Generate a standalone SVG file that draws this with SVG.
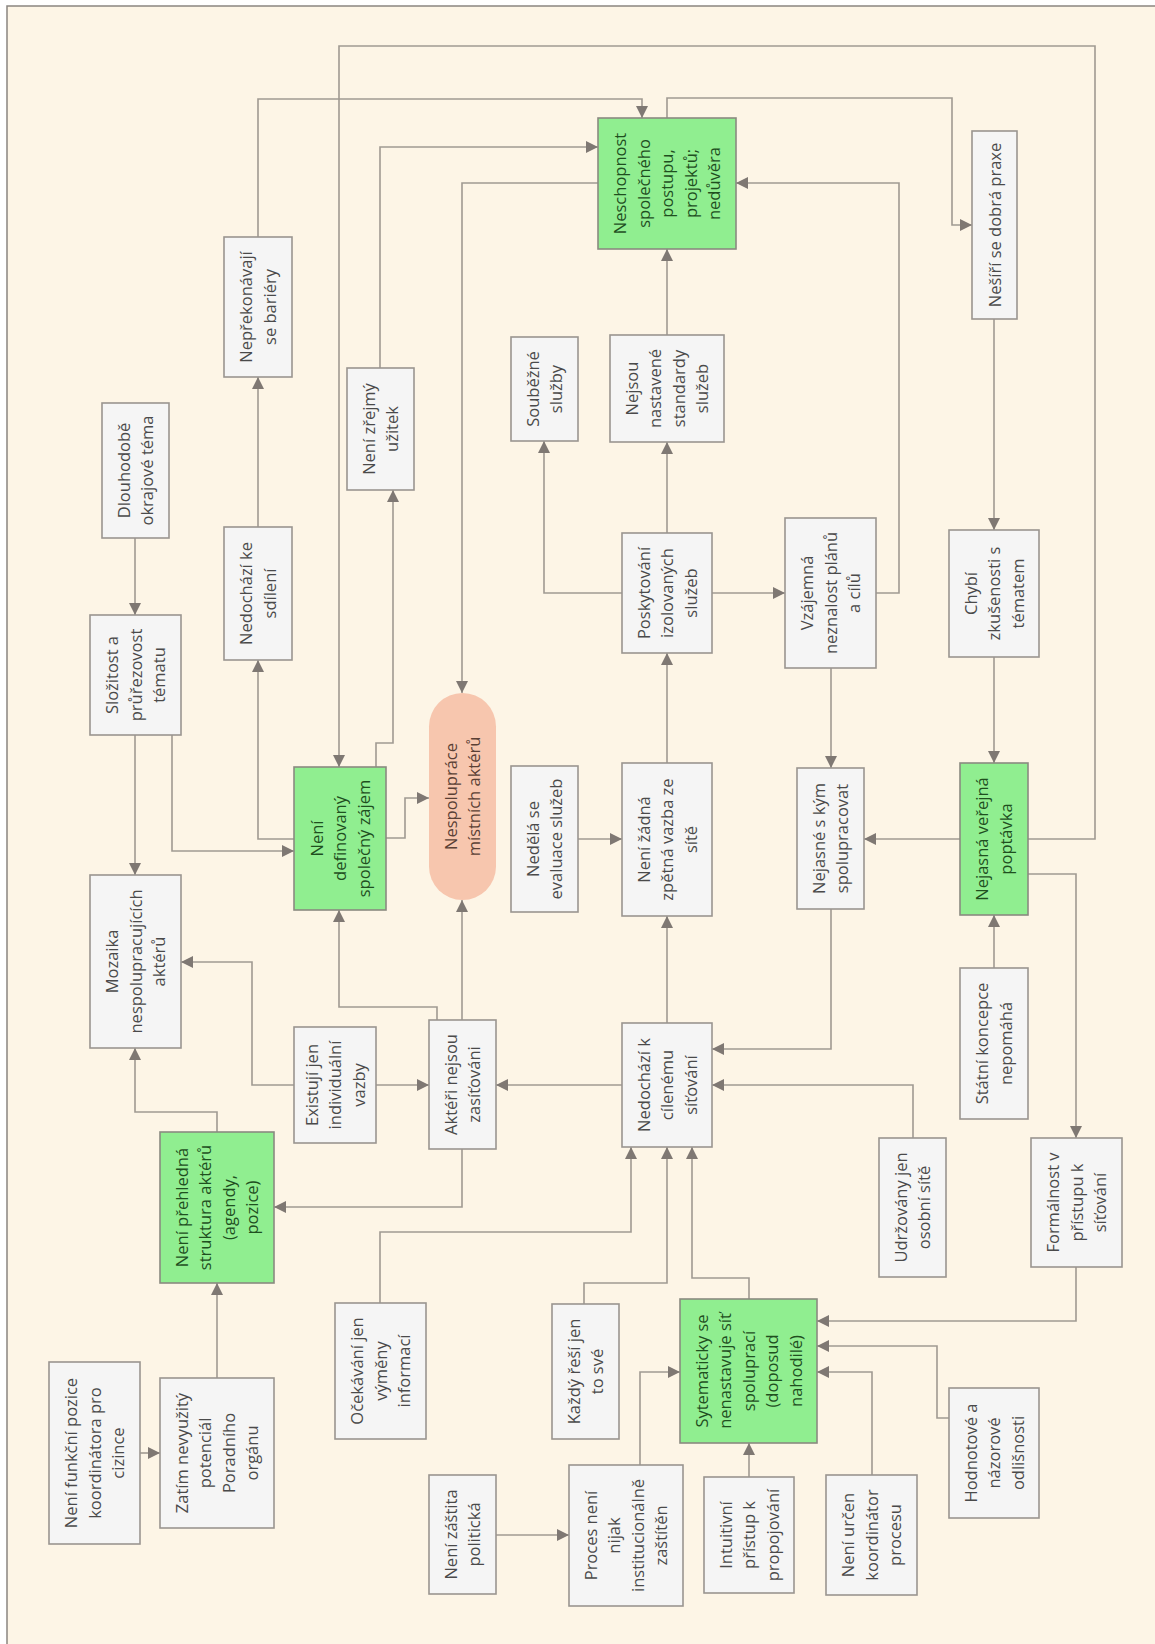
<svg xmlns="http://www.w3.org/2000/svg" width="1155" height="1644" viewBox="0 0 1155 1644">
<style>
.bg{fill:#fdf5e6;stroke:#8a8580;stroke-width:1.5}
.n rect{fill:#f5f5f5;stroke:#9a9590;stroke-width:1.6}
.g rect{fill:#90ee90;stroke:#8a8a80;stroke-width:1.6}
.p rect{fill:#f7c6ae;stroke:none}
text{font-family:"Open Sans","Noto Sans","DejaVu Sans",sans-serif;font-size:16.5px;text-anchor:middle;fill:#4a4a4a}
.g text{fill:#1f4f1f}
.p text{fill:#5a4035}
.c path{fill:none;stroke:#a09a92;stroke-width:1.6}
</style>
<defs>
<marker id="a" markerUnits="userSpaceOnUse" markerWidth="13" markerHeight="13" viewBox="0 0 13 13" refX="12" refY="6.5" orient="auto">
<path d="M0,0.5 L12,6.5 L0,12.5 Z" fill="#7f7873"/>
</marker>
</defs>
<rect x="0" y="0" width="1155" height="1644" fill="#ffffff"/>
<rect class="bg" x="7" y="6" width="1160" height="1650"/>
<g class="c">
<path d="M135,538 V615" marker-end="url(#a)"/>
<path d="M135,735 V875" marker-end="url(#a)"/>
<path d="M172,735 V851 H294" marker-end="url(#a)"/>
<path d="M294,839 H258 V660" marker-end="url(#a)"/>
<path d="M258,527 V377" marker-end="url(#a)"/>
<path d="M258,237 V99 H642 V118" marker-end="url(#a)"/>
<path d="M1028,839 H1095 V46 H339 V767" marker-end="url(#a)"/>
<path d="M376,767 V743 H393 V490" marker-end="url(#a)"/>
<path d="M380,368 V147 H598" marker-end="url(#a)"/>
<path d="M598,183 H462 V693" marker-end="url(#a)"/>
<path d="M667,118 V98 H952 V225 H972" marker-end="url(#a)"/>
<path d="M994,319 V530" marker-end="url(#a)"/>
<path d="M994,657 V763" marker-end="url(#a)"/>
<path d="M876,593 H899 V183 H736" marker-end="url(#a)"/>
<path d="M667,335 V249" marker-end="url(#a)"/>
<path d="M622,593 H544 V441" marker-end="url(#a)"/>
<path d="M667,533 V442" marker-end="url(#a)"/>
<path d="M712,593 H785" marker-end="url(#a)"/>
<path d="M667,763 V653" marker-end="url(#a)"/>
<path d="M831,668 V768" marker-end="url(#a)"/>
<path d="M578,839 H622" marker-end="url(#a)"/>
<path d="M386,838 H405 V798 H429" marker-end="url(#a)"/>
<path d="M462,1020 V900" marker-end="url(#a)"/>
<path d="M437,1020 V1007 H339 V910" marker-end="url(#a)"/>
<path d="M667,1023 V916" marker-end="url(#a)"/>
<path d="M622,1085 H496" marker-end="url(#a)"/>
<path d="M376,1085 H429" marker-end="url(#a)"/>
<path d="M294,1085 H252 V962 H181" marker-end="url(#a)"/>
<path d="M217,1132 V1112 H135 V1048" marker-end="url(#a)"/>
<path d="M462,1149 V1207 H274" marker-end="url(#a)"/>
<path d="M960,839 H864" marker-end="url(#a)"/>
<path d="M831,909 V1049 H712" marker-end="url(#a)"/>
<path d="M913,1138 V1085 H712" marker-end="url(#a)"/>
<path d="M994,968 V915" marker-end="url(#a)"/>
<path d="M1028,874 H1076 V1138" marker-end="url(#a)"/>
<path d="M1076,1267 V1321 H817" marker-end="url(#a)"/>
<path d="M217,1378 V1283" marker-end="url(#a)"/>
<path d="M140,1453 H160" marker-end="url(#a)"/>
<path d="M380,1303 V1232 H631 V1147" marker-end="url(#a)"/>
<path d="M584,1304 V1283 H667 V1147" marker-end="url(#a)"/>
<path d="M749,1299 V1278 H692 V1147" marker-end="url(#a)"/>
<path d="M496,1535 H569" marker-end="url(#a)"/>
<path d="M640,1465 V1372 H680" marker-end="url(#a)"/>
<path d="M749,1477 V1443" marker-end="url(#a)"/>
<path d="M872,1475 V1372 H817" marker-end="url(#a)"/>
<path d="M949,1418 H937 V1346 H817" marker-end="url(#a)"/>
</g>

<g id="n1" class="n"><rect x="224" y="237" width="68" height="140"/><text transform="translate(258,307) rotate(-90)"><tspan x="0" y="-5.75">Nepřekonávají</tspan><tspan x="0" y="17.75">se bariéry</tspan></text></g>
<g id="n2" class="n"><rect x="347" y="368" width="67" height="122"/><text transform="translate(380.5,429) rotate(-90)"><tspan x="0" y="-5.75">Není zřejmý</tspan><tspan x="0" y="17.75">užitek</tspan></text></g>
<g id="n3" class="g"><rect x="598" y="118" width="138" height="131"/><text transform="translate(667,183.5) rotate(-90)"><tspan x="0" y="-41">Neschopnost</tspan><tspan x="0" y="-17.5">společného</tspan><tspan x="0" y="6">postupu,</tspan><tspan x="0" y="29.5">projektů;</tspan><tspan x="0" y="53">nedůvěra</tspan></text></g>
<g id="n4" class="n"><rect x="972" y="131" width="45" height="188"/><text transform="translate(994.5,225) rotate(-90)"><tspan x="0" y="6">Nešíří se dobrá praxe</tspan></text></g>
<g id="n5" class="n"><rect x="102" y="403" width="67" height="135"/><text transform="translate(135.5,470.5) rotate(-90)"><tspan x="0" y="-5.75">Dlouhodobě</tspan><tspan x="0" y="17.75">okrajové téma</tspan></text></g>
<g id="n6" class="n"><rect x="90" y="615" width="91" height="120"/><text transform="translate(135.5,675) rotate(-90)"><tspan x="0" y="-17.5">Složitost a</tspan><tspan x="0" y="6">průřezovost</tspan><tspan x="0" y="29.5">tématu</tspan></text></g>
<g id="n7" class="n"><rect x="224" y="527" width="68" height="133"/><text transform="translate(258,593.5) rotate(-90)"><tspan x="0" y="-5.75">Nedochází ke</tspan><tspan x="0" y="17.75">sdílení</tspan></text></g>
<g id="n8" class="n"><rect x="511" y="337" width="67" height="104"/><text transform="translate(544.5,389) rotate(-90)"><tspan x="0" y="-5.75">Souběžné</tspan><tspan x="0" y="17.75">služby</tspan></text></g>
<g id="n9" class="n"><rect x="610" y="335" width="114" height="107"/><text transform="translate(667,388.5) rotate(-90)"><tspan x="0" y="-29.25">Nejsou</tspan><tspan x="0" y="-5.75">nastavené</tspan><tspan x="0" y="17.75">standardy</tspan><tspan x="0" y="41.25">služeb</tspan></text></g>
<g id="n10" class="n"><rect x="622" y="533" width="90" height="120"/><text transform="translate(667,593) rotate(-90)"><tspan x="0" y="-17.5">Poskytování</tspan><tspan x="0" y="6">izolovaných</tspan><tspan x="0" y="29.5">služeb</tspan></text></g>
<g id="n11" class="n"><rect x="785" y="518" width="91" height="150"/><text transform="translate(830.5,593) rotate(-90)"><tspan x="0" y="-17.5">Vzájemná</tspan><tspan x="0" y="6">neznalost plánů</tspan><tspan x="0" y="29.5">a cílů</tspan></text></g>
<g id="n12" class="n"><rect x="949" y="530" width="90" height="127"/><text transform="translate(994,593.5) rotate(-90)"><tspan x="0" y="-17.5">Chybí</tspan><tspan x="0" y="6">zkušenosti s</tspan><tspan x="0" y="29.5">tématem</tspan></text></g>
<g id="n13" class="n"><rect x="90" y="875" width="91" height="173"/><text transform="translate(135.5,961.5) rotate(-90)"><tspan x="0" y="-17.5">Mozaika</tspan><tspan x="0" y="6">nespolupracujících</tspan><tspan x="0" y="29.5">aktérů</tspan></text></g>
<g id="n14" class="g"><rect x="294" y="767" width="92" height="143"/><text transform="translate(340,838.5) rotate(-90)"><tspan x="0" y="-17.5">Není</tspan><tspan x="0" y="6">definovaný</tspan><tspan x="0" y="29.5">společný zájem</tspan></text></g>
<g id="n15" class="p"><rect x="429" y="693" width="67" height="207" rx="33.5" ry="33.5"/><text transform="translate(462.5,796.5) rotate(-90)"><tspan x="0" y="-5.75">Nespolupráce</tspan><tspan x="0" y="17.75">místních aktérů</tspan></text></g>
<g id="n16" class="n"><rect x="511" y="766" width="67" height="146"/><text transform="translate(544.5,839) rotate(-90)"><tspan x="0" y="-5.75">Nedělá se</tspan><tspan x="0" y="17.75">evaluace služeb</tspan></text></g>
<g id="n17" class="n"><rect x="622" y="763" width="90" height="153"/><text transform="translate(667,839.5) rotate(-90)"><tspan x="0" y="-17.5">Není žádná</tspan><tspan x="0" y="6">zpětná vazba ze</tspan><tspan x="0" y="29.5">sítě</tspan></text></g>
<g id="n18" class="n"><rect x="797" y="768" width="67" height="141"/><text transform="translate(830.5,838.5) rotate(-90)"><tspan x="0" y="-5.75">Nejasné s kým</tspan><tspan x="0" y="17.75">spolupracovat</tspan></text></g>
<g id="n19" class="g"><rect x="960" y="763" width="68" height="152"/><text transform="translate(994,839) rotate(-90)"><tspan x="0" y="-5.75">Nejasná veřejná</tspan><tspan x="0" y="17.75">poptávka</tspan></text></g>
<g id="n20" class="n"><rect x="294" y="1027" width="82" height="116"/><text transform="translate(335,1085) rotate(-90)"><tspan x="0" y="-17.5">Existují jen</tspan><tspan x="0" y="6">individuální</tspan><tspan x="0" y="29.5">vazby</tspan></text></g>
<g id="n21" class="n"><rect x="429" y="1020" width="67" height="129"/><text transform="translate(462.5,1084.5) rotate(-90)"><tspan x="0" y="-5.75">Aktéři nejsou</tspan><tspan x="0" y="17.75">zasíťováni</tspan></text></g>
<g id="n22" class="n"><rect x="622" y="1023" width="90" height="124"/><text transform="translate(667,1085) rotate(-90)"><tspan x="0" y="-17.5">Nedochází k</tspan><tspan x="0" y="6">cílenému</tspan><tspan x="0" y="29.5">síťování</tspan></text></g>
<g id="n23" class="n"><rect x="960" y="968" width="68" height="151"/><text transform="translate(994,1043.5) rotate(-90)"><tspan x="0" y="-5.75">Státní koncepce</tspan><tspan x="0" y="17.75">nepomáhá</tspan></text></g>
<g id="n24" class="g"><rect x="160" y="1132" width="114" height="151"/><text transform="translate(217,1207.5) rotate(-90)"><tspan x="0" y="-29.25">Není přehledná</tspan><tspan x="0" y="-5.75">struktura aktérů</tspan><tspan x="0" y="17.75">(agendy,</tspan><tspan x="0" y="41.25">pozice)</tspan></text></g>
<g id="n25" class="n"><rect x="879" y="1138" width="67" height="139"/><text transform="translate(912.5,1207.5) rotate(-90)"><tspan x="0" y="-5.75">Udržovány jen</tspan><tspan x="0" y="17.75">osobní sítě</tspan></text></g>
<g id="n26" class="n"><rect x="1031" y="1138" width="91" height="129"/><text transform="translate(1076.5,1202.5) rotate(-90)"><tspan x="0" y="-17.5">Formálnost v</tspan><tspan x="0" y="6">přístupu k</tspan><tspan x="0" y="29.5">síťování</tspan></text></g>
<g id="n27" class="n"><rect x="49" y="1362" width="91" height="182"/><text transform="translate(94.5,1453) rotate(-90)"><tspan x="0" y="-17.5">Není funkční pozice</tspan><tspan x="0" y="6">koordinátora pro</tspan><tspan x="0" y="29.5">cizince</tspan></text></g>
<g id="n28" class="n"><rect x="160" y="1378" width="114" height="150"/><text transform="translate(217,1453) rotate(-90)"><tspan x="0" y="-29.25">Zatím nevyužitý</tspan><tspan x="0" y="-5.75">potenciál</tspan><tspan x="0" y="17.75">Poradního</tspan><tspan x="0" y="41.25">orgánu</tspan></text></g>
<g id="n29" class="n"><rect x="335" y="1303" width="91" height="136"/><text transform="translate(380.5,1371) rotate(-90)"><tspan x="0" y="-17.5">Očekávání jen</tspan><tspan x="0" y="6">výměny</tspan><tspan x="0" y="29.5">informací</tspan></text></g>
<g id="n30" class="n"><rect x="552" y="1304" width="67" height="135"/><text transform="translate(585.5,1371.5) rotate(-90)"><tspan x="0" y="-5.75">Každý řeší jen</tspan><tspan x="0" y="17.75">to své</tspan></text></g>
<g id="n31" class="g"><rect x="680" y="1299" width="137" height="144"/><text transform="translate(748.5,1371) rotate(-90)"><tspan x="0" y="-41">Sytematicky se</tspan><tspan x="0" y="-17.5">nenastavuje síť</tspan><tspan x="0" y="6">spoluprací</tspan><tspan x="0" y="29.5">(doposud</tspan><tspan x="0" y="53">nahodilé)</tspan></text></g>
<g id="n32" class="n"><rect x="429" y="1475" width="67" height="119"/><text transform="translate(462.5,1534.5) rotate(-90)"><tspan x="0" y="-5.75">Není záštita</tspan><tspan x="0" y="17.75">politická</tspan></text></g>
<g id="n33" class="n"><rect x="569" y="1465" width="114" height="141"/><text transform="translate(626,1535.5) rotate(-90)"><tspan x="0" y="-29.25">Proces není</tspan><tspan x="0" y="-5.75">nijak</tspan><tspan x="0" y="17.75">institucionálně</tspan><tspan x="0" y="41.25">zaštítěn</tspan></text></g>
<g id="n34" class="n"><rect x="704" y="1477" width="90" height="116"/><text transform="translate(749,1535) rotate(-90)"><tspan x="0" y="-17.5">Intuitivní</tspan><tspan x="0" y="6">přístup k</tspan><tspan x="0" y="29.5">propojování</tspan></text></g>
<g id="n35" class="n"><rect x="826" y="1475" width="91" height="120"/><text transform="translate(871.5,1535) rotate(-90)"><tspan x="0" y="-17.5">Není určen</tspan><tspan x="0" y="6">koordinátor</tspan><tspan x="0" y="29.5">procesu</tspan></text></g>
<g id="n36" class="n"><rect x="949" y="1388" width="90" height="130"/><text transform="translate(994,1453) rotate(-90)"><tspan x="0" y="-17.5">Hodnotové a</tspan><tspan x="0" y="6">názorové</tspan><tspan x="0" y="29.5">odlišnosti</tspan></text></g>
</svg>
